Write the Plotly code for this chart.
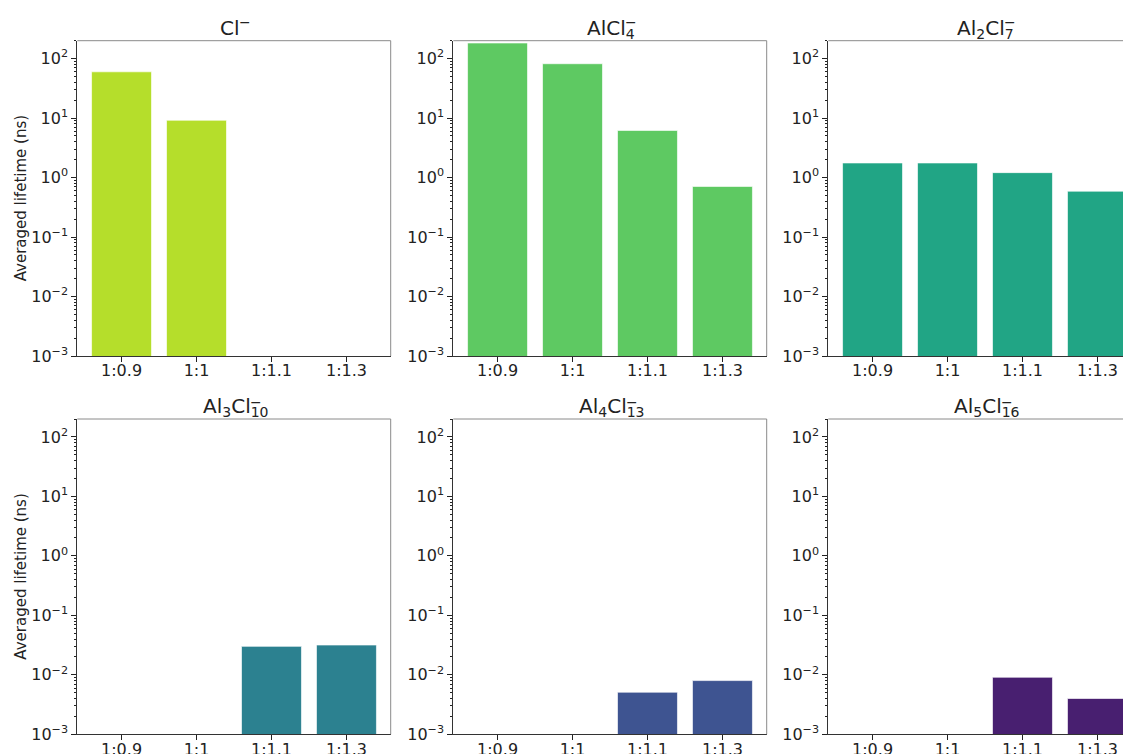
import math
import plotly.graph_objects as go

# ---- data ----
ratios = ["1:0.9", "1:1", "1:1.1", "1:1.3"]
cl = [60, 9.2, None, None]
alcl4 = [183, 82, 6.2, 0.71]
al2cl7 = [1.76, 1.76, 1.21, 0.59]
al3cl10 = [None, None, 0.0301, 0.0317]
al4cl13 = [None, None, 0.0051, 0.0080]
al5cl16 = [None, None, 0.0091, 0.0040]

series = [cl, alcl4, al2cl7, al3cl10, al4cl13, al5cl16]
# titles as (pieces) : list of (text, is_subscript); a stacked "−" superscript follows
title_parts = [
    [("Cl", False)],
    [("AlCl", False), ("4", True)],
    [("Al", False), ("2", True), ("Cl", False), ("7", True)],
    [("Al", False), ("3", True), ("Cl", False), ("10", True)],
    [("Al", False), ("4", True), ("Cl", False), ("13", True)],
    [("Al", False), ("5", True), ("Cl", False), ("16", True)],
]
colors = ["#b5de2b", "#5ec962", "#21a585", "#2c8190", "#3e5491", "#481f70"]
major_vals = [1e-3, 1e-2, 1e-1, 1e0, 1e1, 1e2]
major_text = ["10<sup>−3</sup>", "10<sup>−2</sup>", "10<sup>−1</sup>",
              "10<sup>0</sup>", "10<sup>1</sup>", "10<sup>2</sup>"]
ylabel = "Averaged lifetime (ns)"

# page is offset by the 8px body margin -> work in page px and subtract OFF
OFF = 8
W, H = 1131 - OFF, 754 - OFF
minor_vals = [m * 10 ** e for e in range(-3, 3) for m in range(2, 10) if m * 10 ** e <= 200]

col_px = [(77.3, 390.7), (453.3, 766.7), (828.3, 1131.0)]
row_px = [(40.7, 356.0), (419.0, 734.3)]
title_base = [33.5, 411.5]   # baseline of title text (page px)
minus_y = [22.5, 402.0]      # centre of stacked minus sign (page px)
PANEL_W = 313.4
unit_per_px = 4.18 / PANEL_W

ADV = {"A": 0.684, "l": 0.278, "C": 0.698}
for d in "0123456789":
    ADV[d] = 0.636
TFS = 20
SFS = 14


def px_x(p):
    return (p - OFF) / W


def px_y(p):
    return 1 - (p - OFF) / H


fig = go.Figure()
ink = "#222222"

for i, vals in enumerate(series):
    r, c = divmod(i, 3)
    n = "" if i == 0 else str(i + 1)
    fig.add_trace(go.Bar(
        x=ratios, y=vals, xaxis="x" + n, yaxis="y" + n, width=0.8,
        marker=dict(color=colors[i], line=dict(color="rgba(255,255,255,0.8)", width=0.8)),
        showlegend=False,
    ))
    x0, x1 = col_px[c]
    y0, y1 = row_px[r]
    xr = [-0.59, -0.59 + (x1 - x0) * unit_per_px]
    fig.layout["xaxis" + n] = dict(
        domain=[px_x(x0), min(1.0, px_x(x1))], anchor="y" + n, type="category", range=xr,
        tickmode="array", tickvals=ratios, ticks="outside", ticklen=5, tickwidth=1.3,
        tickcolor=ink, showline=True, linecolor="#333333", linewidth=1,
        showgrid=False, zeroline=False, tickfont=dict(size=16, color=ink),
        automargin=False, ticklabelstandoff=-5,
    )
    fig.layout["yaxis" + n] = dict(
        domain=[px_y(y1), px_y(y0)], anchor="x" + n, type="log",
        range=[-3, math.log10(200)], tickmode="array", tickvals=major_vals,
        ticktext=major_text, ticks="outside", ticklen=5, tickwidth=1.3, tickcolor=ink,
        showline=True, linecolor="#333333", linewidth=1, showgrid=False, zeroline=False,
        tickfont=dict(size=16, color=ink), automargin=False,
        minor=dict(tickmode="array", tickvals=minor_vals, ticks="outside", ticklen=2.5,
                   tickwidth=1, tickcolor=ink, showgrid=False),
    )
    # top and right frame lines
    fig.add_shape(type="line", xref=f"x{n} domain", yref=f"y{n} domain",
                  x0=0, x1=1, y0=1, y1=1, line=dict(color="#8a8a8a", width=1))
    if c < 2:
        fig.add_shape(type="line", xref=f"x{n} domain", yref=f"y{n} domain",
                      x0=1, x1=1, y0=0, y1=1, line=dict(color="#8a8a8a", width=1))

    # title with stacked superscript minus
    parts = title_parts[i]
    html = ""
    width = 0.0
    last_start = 0.0
    for txt, sub in parts:
        fs = SFS if sub else TFS
        w = sum(ADV[ch] for ch in txt) * fs
        if sub:
            html += f"<sub>{txt}</sub>"
            last_start = width
        else:
            html += txt
        width += w
    has_sub = parts[-1][1]
    minus_w = 0.838 * SFS
    if has_sub:
        total = max(width, last_start + minus_w)
        minus_x_off = last_start
    else:
        total = width + minus_w
        minus_x_off = width
    cx = x0 + PANEL_W / 2
    left = cx - total / 2
    fig.add_annotation(text=html, xref="paper", yref="paper",
                       x=px_x(left), y=px_y(title_base[r] - 19.6), xanchor="left",
                       yanchor="top", showarrow=False, borderpad=1,
                       font=dict(size=TFS, color=ink))
    fig.add_annotation(text="−", xref="paper", yref="paper",
                       x=px_x(left + minus_x_off), y=px_y(minus_y[r] + 0.5 * (0 if has_sub else -1)),
                       xanchor="left", yanchor="middle", showarrow=False, borderpad=0,
                       font=dict(size=SFS, color=ink))
    if c == 0:
        fig.add_annotation(text=ylabel, xref="paper", yref="paper",
                           x=px_x(21), y=px_y((y0 + y1) / 2), textangle=-90,
                           xanchor="center", yanchor="middle", showarrow=False,
                           font=dict(size=15, color=ink))

fig.update_layout(
    width=W, height=H, margin=dict(l=0, r=0, t=0, b=0),
    paper_bgcolor="white", plot_bgcolor="white",
    font=dict(family="DejaVu Sans", color=ink), showlegend=False,
)

fig.write_html("out.html")
